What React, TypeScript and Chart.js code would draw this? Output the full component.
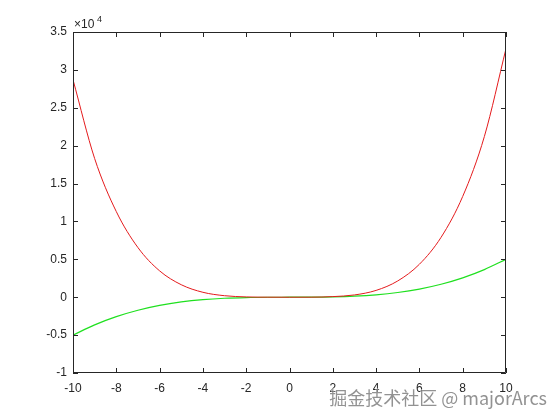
import React, { useEffect, useRef } from "react";
import { Chart, registerables } from "chart.js";

Chart.register(...registerables);

const xValues = [-10, -9, -8, -7, -6, -5, -4, -3, -2, -1, 0, 1, 2, 3, 4, 5, 6, 7, 8, 9, 10];
const redValues = [28700, 18300, 11300, 6550, 3480, 1650, 650, 200, 40, 5, 0, 5, 80, 300, 900, 2150, 4350, 7900, 13300, 21200, 32800];
const greenValues = [-5000, -3645, -2560, -1715, -1080, -625, -320, -135, -40, -5, 0, 5, 40, 135, 320, 625, 1080, 1715, 2560, 3645, 5000];
const xTicks = [-10, -8, -6, -4, -2, 0, 2, 4, 6, 8, 10];
const yTicks = [-10000, -5000, 0, 5000, 10000, 15000, 20000, 25000, 30000, 35000];
const exponentLabel = "4";
const watermark = "掘金技术社区 @ majorArcs";

const boxPlugin = {
  id: "box",
  afterDraw(chart: any) {
    const { ctx, chartArea: a, scales } = chart;
    const xs = scales.x;
    const ys = scales.y;
    ctx.save();
    ctx.strokeStyle = "#262626";
    ctx.lineWidth = 1;
    ctx.beginPath();
    ctx.rect(a.left + 0.5, a.top + 0.5, a.right - a.left - 1, a.bottom - a.top - 1);
    const tl = 5;
    xTicks.forEach((v) => {
      const px = Math.round(xs.getPixelForValue(v)) + 0.5;
      ctx.moveTo(px, a.bottom);
      ctx.lineTo(px, a.bottom - tl);
      ctx.moveTo(px, a.top);
      ctx.lineTo(px, a.top + tl);
    });
    yTicks.forEach((v) => {
      const py = Math.round(ys.getPixelForValue(v)) + 0.5;
      ctx.moveTo(a.left, py);
      ctx.lineTo(a.left + tl, py);
      ctx.moveTo(a.right, py);
      ctx.lineTo(a.right - tl, py);
    });
    ctx.stroke();
    // exponent label
    ctx.fillStyle = "#262626";
    ctx.textBaseline = "alphabetic";
    ctx.textAlign = "left";
    ctx.font = "12px 'Liberation Sans', Arial, sans-serif";
    ctx.fillText("×10", a.left + 1, a.top - 4);
    ctx.font = "9px 'Liberation Sans', Arial, sans-serif";
    ctx.fillText(exponentLabel, a.left + 24, a.top - 10);
    // watermark
    ctx.font = "18px 'Noto Sans CJK SC', sans-serif";
    ctx.textAlign = "right";
    ctx.textBaseline = "middle";
    ctx.lineWidth = 2;
    ctx.strokeStyle = "rgba(255,255,255,0.45)";
    ctx.strokeText(watermark, 547, 398);
    ctx.fillStyle = "rgba(110,110,110,0.75)";
    ctx.fillText(watermark, 547, 398);
    ctx.restore();
  },
};

export default function App() {
  const ref = useRef<HTMLCanvasElement | null>(null);
  useEffect(() => {
    if (!ref.current) return;
    const chart = new Chart(ref.current, {
      type: "line",
      data: {
        datasets: [
          {
            data: xValues.map((x, i) => ({ x, y: redValues[i] })),
            borderColor: "#e41a1c",
            borderWidth: 1,
            pointRadius: 0,
            cubicInterpolationMode: "monotone",
            fill: false,
          },
          {
            data: xValues.map((x, i) => ({ x, y: greenValues[i] })),
            borderColor: "#1fe01f",
            borderWidth: 1.2,
            pointRadius: 0,
            cubicInterpolationMode: "monotone",
            fill: false,
          },
        ],
      },
      options: {
        animation: false,
        responsive: false,
        devicePixelRatio: 1,
        layout: { padding: { left: 0, top: 32, right: 54, bottom: 0 } },
        plugins: { legend: { display: false }, tooltip: { enabled: false } },
        scales: {
          x: {
            type: "linear",
            min: -10,
            max: 10,
            grid: { display: false, drawTicks: false, tickLength: 0 },
            border: { display: false },
            afterBuildTicks: (s: any) => {
              s.ticks = xTicks.map((v) => ({ value: v }));
            },
            afterFit: (s: any) => {
              s.height = 47;
            },
            ticks: {
              padding: 8,
              color: "#262626",
              font: { family: "'Liberation Sans', Arial, sans-serif", size: 12 },
              maxRotation: 0,
              autoSkip: false,
              callback: (v: any) => String(v),
            },
          },
          y: {
            type: "linear",
            min: -10000,
            max: 35000,
            grid: { display: false, drawTicks: false, tickLength: 0 },
            border: { display: false },
            afterBuildTicks: (s: any) => {
              s.ticks = yTicks.map((v) => ({ value: v }));
            },
            afterFit: (s: any) => {
              s.width = 73;
            },
            ticks: {
              padding: 6,
              color: "#262626",
              font: { family: "'Liberation Sans', Arial, sans-serif", size: 12 },
              autoSkip: false,
              callback: (v: any) => String(Number(v) / 10000),
            },
          },
        },
      },
      plugins: [boxPlugin],
    } as any);
    return () => chart.destroy();
  }, []);
  return (
    <div style={{ position: "absolute", left: 0, top: 0, width: 560, height: 420, background: "#fff" }}>
      <canvas ref={ref} width={560} height={420} style={{ width: 560, height: 420 }} />
    </div>
  );
}
